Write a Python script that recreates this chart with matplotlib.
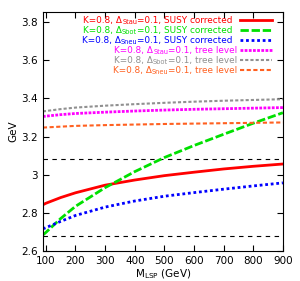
import matplotlib
matplotlib.use("Agg")
import matplotlib.pyplot as plt

# LSP mass grid (GeV)
m_lsp = [90, 100, 150, 200, 300, 400, 500, 600, 700, 800, 900]

stau_susy = [2.842, 2.850, 2.880, 2.905, 2.945, 2.972, 2.995, 3.013, 3.030, 3.044, 3.056]
sbot_susy = [2.684, 2.697, 2.770, 2.834, 2.932, 3.016, 3.090, 3.153, 3.212, 3.270, 3.325]
sneu_susy = [2.716, 2.722, 2.755, 2.786, 2.830, 2.862, 2.887, 2.906, 2.924, 2.941, 2.957]
stau_tree = [3.305, 3.307, 3.315, 3.321, 3.328, 3.334, 3.339, 3.343, 3.346, 3.349, 3.352]
sbot_tree = [3.332, 3.334, 3.344, 3.352, 3.362, 3.370, 3.377, 3.383, 3.388, 3.392, 3.396]
sneu_tree = [3.247, 3.248, 3.252, 3.256, 3.260, 3.263, 3.266, 3.268, 3.270, 3.272, 3.274]

bounds = [3.08, 2.68]

# key labels: prefix, subscript, suffix
subs = ["Stau", "Sbot", "Sneu", "Stau", "Sbot", "Sneu"]
suffixes = ["=0.1, SUSY corrected"] * 3 + ["=0.1, tree level"] * 3

series = [stau_susy, sbot_susy, sneu_susy, stau_tree, sbot_tree, sneu_tree]
colors = ["#ff0000", "#00e000", "#0000ff", "#ff00ff", "#909090", "#ff6020"]
styles = ["-", (0, (3, 1)), (0, (1, 1)), (0, (1, 0.5)), (0, (1.5, 1)), (0, (2, 1.2))]
widths = [2.0, 2.0, 2.0, 2.0, 1.5, 1.5]

fig = plt.figure(figsize=(3.0, 2.81), dpi=100)
ax = fig.add_axes([0.143, 0.107, 0.80, 0.85])

for y in bounds:
    ax.axhline(y, color="black", lw=0.8, ls=(0, (4, 4)))

for ys, c, s, w in zip(series, colors, styles, widths):
    ax.plot(m_lsp, ys, color=c, ls=s, lw=w)

# gnuplot-like key: right aligned text, sample line on the right
for i, (sub, suf, c, s, w) in enumerate(zip(subs, suffixes, colors, styles, widths)):
    yk = 0.966 - i * 0.042
    xt = 0.79 if i < 3 else 0.81
    t3 = ax.text(xt, yk, suf, color=c, ha="right", va="center", fontsize=6.4,
                 transform=ax.transAxes)
    t2 = ax.annotate(sub, xy=(0, 0.5), xycoords=t3, xytext=(0, -1.5),
                     textcoords="offset points", color=c, ha="right",
                     va="center", fontsize=4.8)
    ax.annotate("K=0.8, \u0394", xy=(0, 0.5), xycoords=(t2, t3), color=c,
                ha="right", va="center", fontsize=6.4)
    ax.plot([0.82, 0.955], [yk, yk], color=c, ls=s, lw=w, transform=ax.transAxes)

ax.set_xlim(90, 900)
ax.set_ylim(2.6, 3.853)
ax.set_xticks([100, 200, 300, 400, 500, 600, 700, 800, 900])
ax.set_yticks([2.6, 2.8, 3.0, 3.2, 3.4, 3.6, 3.8])
ax.set_yticklabels(["2.6", "2.8", "3", "3.2", "3.4", "3.6", "3.8"])
ax.tick_params(direction="in", top=True, right=True, labelsize=7.5, length=4)
ax.set_xlabel(r"M$_{\mathrm{LSP}}$ (GeV)", fontsize=7.5, labelpad=1)
ax.set_ylabel("GeV", fontsize=7.5, labelpad=2)

fig.savefig("out.png", dpi=100)
